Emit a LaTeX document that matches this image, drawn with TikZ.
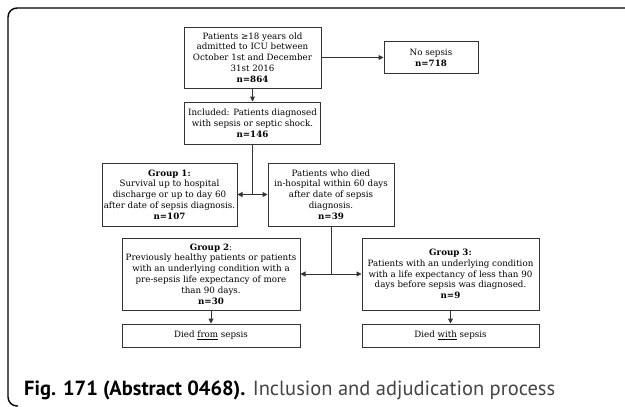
\documentclass[tikz,border=0pt]{standalone}
\usepackage{fontspec}
\setmainfont{DejaVu Serif}
\newfontfamily\capfont{PT Sans}
\usepackage{xcolor}
\usepackage{tikz}
\usetikzlibrary{positioning,arrows.meta,calc}
\definecolor{boxline}{HTML}{333333}
\definecolor{capgray}{HTML}{444444}

\begin{document}
\begin{tikzpicture}[
    x=1pt,y=1pt,
    font=\fontsize{8.7}{10.8}\selectfont,
    box/.style ={draw=boxline,line width=1pt,align=center,inner sep=1pt},
    arr/.style ={-{Triangle[length=5pt,width=5pt]},line width=1pt,draw=boxline},
    lin/.style ={line width=1pt,draw=boxline},
    ]
    \useasboundingbox (0,0) rectangle (625,-407);
    % outer frame, open at right and bottom
    \draw[line width=1.4pt,rounded corners=9pt] (625,-8) -- (8,-8) -- (8,-406) -- (18,-406);

    \node[box,minimum width=137pt,minimum height=61pt] (adm) at (252.5,-57.5)
      {Patients ≥18 years old\\admitted to ICU between\\October 1st and December\\31st 2016\\\textbf{n=864}};
    \node[box,minimum width=94pt,minimum height=32pt,right=62pt of adm] (nosep)
      {No sepsis\\\textbf{n=718}};
    \node[box,minimum width=136pt,minimum height=42pt,below=13pt of adm] (incl)
      {Included: Patients diagnosed\\with sepsis or septic shock.\\\textbf{n=146}};
    \node[box,minimum width=135pt,minimum height=63pt] (grp1) at (169.5,-194.5)
      {\textbf{Group 1:}\\Survival up to hospital\\discharge or up to day 60\\after date of sepsis diagnosis.\\\textbf{n=107}};
    \node[box,minimum width=126pt,minimum height=63pt] (died) at (331,-194.5)
      {Patients who died\\in-hospital within 60 days\\after date of sepsis\\diagnosis.\\\textbf{n=39}};
    \node[box,minimum width=178pt,minimum height=72pt] (grp2) at (211,-274)
      {\textbf{Group 2}:\\Previously healthy patients or patients\\with an underlying condition with a\\pre-sepsis life expectancy of more\\than 90 days.\\\textbf{n=30}};
    \node[box,minimum width=177pt,minimum height=72pt] (grp3) at (450.5,-274)
      {\textbf{Group 3:}\\Patients with an underlying condition\\with a life expectancy of less than 90\\days before sepsis was diagnosed.\\\textbf{n=9}};
    \node[box,minimum width=178pt,minimum height=23pt,below=13pt of grp2] (dfrom)
      {Died \underline{from} sepsis};
    \node[box,minimum width=177pt,minimum height=23pt,below=13pt of grp3] (dwith)
      {Died \underline{with} sepsis};

    \coordinate (j1) at (incl.south |- grp1.east);
    \coordinate (j2) at (died.south |- grp2.east);

    \draw[arr] (adm.east |- nosep.west) -- (nosep.west);
    \draw[arr] (adm) -- (incl);
    \draw[lin] (incl.south) -- (j1);
    \draw[arr] (j1) -- (grp1.east);
    \draw[arr] (j1) -- (died.west);
    \draw[lin] (died.south) -- (j2);
    \draw[arr] (j2) -- (grp2.east);
    \draw[arr] (j2) -- (grp3.west);
    \draw[arr] (grp2) -- (dfrom);
    \draw[arr] (grp3) -- (dwith);

    \node[anchor=base west,inner sep=0pt,font=\capfont\fontsize{20.5}{22}\selectfont] (cap) at (24,-395)
      {\textbf{Fig. 171 (Abstract 0468).} \textcolor{capgray}{Inclusion and adjudication process}};
  \end{tikzpicture}
\end{document}
